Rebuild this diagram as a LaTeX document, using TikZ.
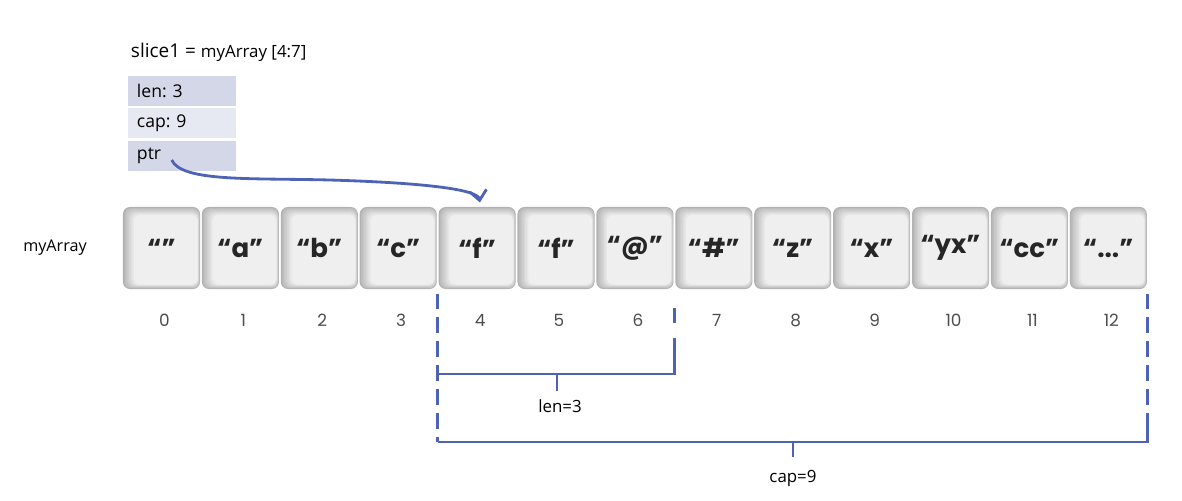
\documentclass[tikz,border=0pt]{standalone}
\usepackage{fontspec}
\setmainfont{Open Sans}
\newfontfamily\keyfont{Poppins}
\usetikzlibrary{arrows.meta,calc}
\frenchspacing

\definecolor{penblue}{RGB}{78,99,182}
\definecolor{rowdark}{RGB}{212,215,232}
\definecolor{rowlight}{RGB}{230,232,242}

\tikzset{
    keybox/.style={rounded corners=5pt, minimum width=1.925cm, minimum height=2.05cm,
        inner sep=0pt, fill=gray!60,
        font=\keyfont\bfseries\fontsize{18.5}{20}\selectfont, text=black!85,
        path picture={
            \foreach \j in {1,...,7} {
                \pgfmathsetmacro\shade{58-6.5*\j}
                \fill[gray!\shade, rounded corners=4pt]
                    ([xshift=\j*1.1pt,yshift=-\j*0.8pt]path picture bounding box.north west) rectangle
                    ([xshift=-\j*0.25pt,yshift=\j*0.45pt]path picture bounding box.south east);
            }}},
    rowbox/.style={minimum width=2.7cm, text width=2.25cm, minimum height=0.75cm,
        inner xsep=0.225cm, align=left, font=\fontsize{12.5}{14}\selectfont},
    idx/.style={font=\keyfont\fontsize{12}{14}\selectfont, text=black!70},
    pen/.style={draw=penblue, line width=2pt},
    pendash/.style={pen, dash pattern=on 11pt off 6pt}
}

\begin{document}
\begin{tikzpicture}[x=0.025cm, y=-0.025cm]
    \useasboundingbox (0,0) rectangle (1182,500);

    % slice header
    \node[anchor=west, font=\fontsize{13.5}{15}\selectfont] (title) at (126,52)
        {slice1 = {\fontsize{12}{14}\selectfont myArray [4:7]}};
    \node[rowbox, fill=rowdark]  (len) at (182,91)  {len: 3};
    \node[rowbox, fill=rowlight] (cap) at (182,123) {cap: 9};
    \node[rowbox, fill=rowdark]  (ptr) at (182,156) {ptr};

    % the array
    \node[font=\fontsize{11.5}{13}\selectfont] (name) at (55,248) {myArray};
    \foreach \i/\t in {0/{“”},1/{“a”},2/{“b”},3/{“c”},4/{“f”},5/{“f”},6/{“@”},
                       7/{“\#”},8/{“z”},9/{“x”},10/{“yx”},11/{“cc”},12/{“...”}} {
        \node[keybox] (k\i) at ({161.5+78.9*\i},248) {\t};
        \node[idx] (i\i) at ({164.5+78.9*\i},320) {\i};
    }

    % pointer
    \draw[pen, -{Straight Barb[length=7pt,width=12pt]}]
        ($(ptr.west)+(44,4)$) .. controls +(10,22) and (250,178) .. (330,180)
        .. controls (430,183) and (478,190) .. ([xshift=2pt,yshift=3pt]k4.north);

    % len and cap brackets
    \coordinate (lo) at ($(k3.south east)!0.5!(k4.south west)$);
    \coordinate (lhi) at ($(k6.south east)!0.5!(k7.south west)$);
    \coordinate (chi) at (k12.south east);
    \draw[pendash] ([yshift=-3pt]lo) -- (lo |- 0,442);
    \draw[pen] (lhi |- 0,308) -- (lhi |- 0,323);
    \draw[pen] (lhi |- 0,338) -- (lhi |- 0,374) -- (lo |- 0,374);
    \draw[pen] (557,374) -- (557,391);
    \node[font=\fontsize{12}{14}\selectfont] (lenlab) at (560,406) {len=3};

    \draw[pendash] ([yshift=-3pt]chi) -- (chi |- 0,405);
    \draw[pen] (chi |- 0,413) -- (chi |- 0,442) -- (lo |- 0,442);
    \draw[pen] (793,442) -- (793,457);
    \node[font=\fontsize{12}{14}\selectfont] (caplab) at (793,478) {cap=9};
\end{tikzpicture}
\end{document}
